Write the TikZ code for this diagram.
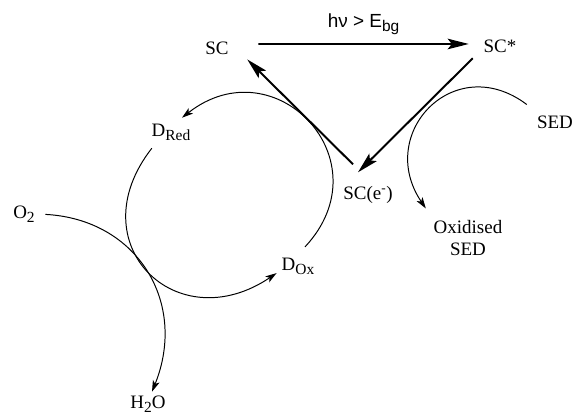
\documentclass[tikz,border=0pt]{standalone}
\usepackage{fontspec}
\setmainfont{Liberation Serif}
\newfontfamily\lblsans{Liberation Sans}
\usepackage{tikz}
\usetikzlibrary{arrows.meta}
\newcommand{\sbs}[1]{\raisebox{-3pt}{\fontsize{11}{12}\selectfont #1}}
\tikzset{
  species/.style={inner sep=2pt, align=center},
  bigarrow/.style={-{Stealth[length=15pt,width=7.5pt,inset=3pt]}, line width=1.4pt},
  curvearrow/.style={-{Stealth[length=8pt,width=5pt,inset=2pt]}, line width=0.7pt}
}

\begin{document}
\begin{tikzpicture}[font=\fontsize{13.5}{15}\selectfont]
  \useasboundingbox (0,0) rectangle (14.4,10.4);

  \node[species] (sc) at (5.425,9.2) {SC};
  \node[species] (scs) at (12.5,9.25) {SC*};
  \node[species] (sce) at (9.2,5.525) {SC(e\textsuperscript{-})};
  \node[species] (sed) at (13.875,7.35) {SED};
  \node[species] (oxsed) at (11.7,4.45) {Oxidised\\SED};
  \node[species] (dred) at (4.275,7.1) {D\sbs{Red}};
  \node[species] (dox) at (7.45,3.75) {D\sbs{Ox}};
  \node[species] (otwo) at (0.6,5.04) {O\sbs{2}};
  \node[species] (water) at (3.7,0.3) {H\sbs{2}O};

  \draw[bigarrow] ([xshift=0.665cm,yshift=0.1cm]sc.east) -- node[species, above=3.7pt] (gap) {\lblsans hν > E\sbs{bg}} ([xshift=-0.295cm,yshift=0.05cm]scs.west);
  \draw[bigarrow] ([xshift=-0.195cm,yshift=-0.07cm]scs.south west) -- ([xshift=-0.25cm,yshift=0.275cm]sce.north);
  \draw[bigarrow] ([xshift=-0.375cm,yshift=0.475cm]sce.north) -- ([xshift=0.39cm,yshift=-0.05cm]sc.south east);

  \draw[curvearrow] ([xshift=0.175cm,yshift=0.19cm]dox.north) to[out=47,in=38,looseness=1.7] ([xshift=0.275cm,yshift=0.07cm]dred.north);
  \draw[curvearrow] ([xshift=0.08cm,yshift=-0.12cm]dred.south west) to[out=232,in=214,looseness=1.75] ([xshift=-0.05cm,yshift=0.11cm]dox.south west);
  \draw[curvearrow] ([xshift=0.19cm]otwo.east) .. controls +(-3:2.3) and +(68:2.4) .. ([xshift=0.1cm,yshift=0.02cm]water.north);
  \draw[curvearrow] ([xshift=-0.18cm,yshift=0.2cm]sed.north west) to[out=143,in=124,looseness=1.6] ([xshift=-0.12cm,yshift=0.23cm]oxsed.north west);
\end{tikzpicture}
\end{document}
